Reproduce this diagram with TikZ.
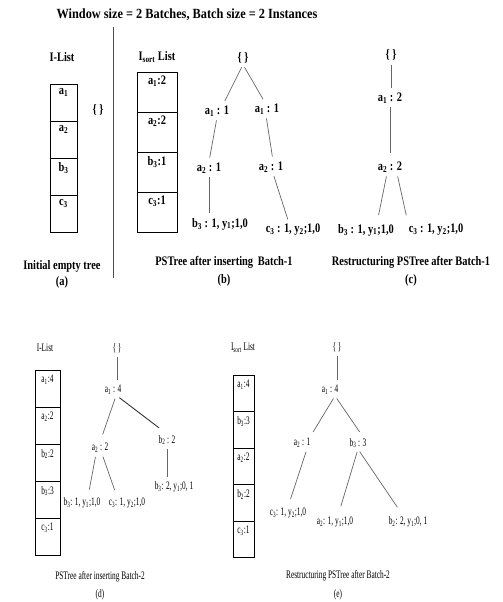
\documentclass[tikz,border=0pt]{standalone}
\usepackage{fontspec}
\setmainfont{Liberation Serif}
\newfontfamily\topfont[FakeStretch=0.8]{Liberation Serif}
\newfontfamily\titlefont[FakeStretch=0.88]{Liberation Serif}
\newfontfamily\botfont[FakeStretch=0.64]{Liberation Serif}
\usetikzlibrary{positioning}

\tikzset{
  toptext/.style={font=\topfont\bfseries\fontsize{13}{15}\selectfont, inner sep=1pt},
  bottext/.style={font=\botfont\fontsize{11.5}{13}\selectfont, inner sep=1pt},
  cell/.style 2 args={draw, line width=0.9pt, minimum width=#1, minimum height=#2, inner sep=0pt},
  edge/.style={draw=black!60, line width=0.7pt, shorten <=3pt, shorten >=4pt}
}

\begin{document}
\begin{tikzpicture}[x=1pt, y=-1pt]
    \useasboundingbox[fill=white] (0,0) rectangle (503,602);

    \node[toptext, font=\titlefont\bfseries\fontsize{14}{16}\selectfont] (title) at (187,15)
    {Window size = 2 Batches, Batch size = 2 Instances};
    \coordinate (divtop) at (113,27);
    \coordinate (divbot) at (113,278);
    \draw[line width=0.8pt, black!70] (divtop) -- (divbot);

    % (a)
    \node[toptext] (a-head) at (62,57) {I-List};
    \foreach \n/\t in
    {1/{a\textsubscript{1}},2/{a\textsubscript{2}},3/{b\textsubscript{3}},4/{c\textsubscript{3}}}
    {\node[cell={27pt}{37pt}, anchor=north] (a-c\n)
    at (63.5,{84+37*(\n-1)}) {};
    \node[toptext, below=3pt of a-c\n.north] {\t};}
    \node[toptext] (a-root) at (98,110) {\{ \}};
    \node[toptext] (a-cap) at (62,266) {Initial empty tree};
    \node[toptext] (a-lbl) at (62,282) {(a)};

    % (b)
    \node[toptext] (b-head) at (157,57) {I\textsubscript{sort} List};
    \foreach \n/\t in
    {1/{a\textsubscript{1}:2},2/{a\textsubscript{2}:2},3/{b\textsubscript{3}:1},4/{c\textsubscript{3}:1}}
    {\node[cell={40pt}{40pt}, anchor=north] (b-c\n)
    at (157,{72+40*(\n-1)}) {};
    \node[toptext, below=3pt of b-c\n.north] {\t};}
    \node[toptext] (b-root) at (243,58) {\{ \}};
    \node[toptext] (b-a1l) at (217,111) {a\textsubscript{1} : 1};
    \node[toptext] (b-a1r) at (267,109) {a\textsubscript{1} : 1};
    \node[toptext] (b-a2l) at (209,168) {a\textsubscript{2} : 1};
    \node[toptext] (b-a2r) at (271,167) {a\textsubscript{2} : 1};
    \node[toptext] (b-lf1) at (220,224) {b\textsubscript{3} : 1, y\textsubscript{1};1,0};
    \node[toptext] (b-lf2) at (293,230) {c\textsubscript{3} : 1, y\textsubscript{2};1,0};
    \draw[edge] (b-root.south) -- ([xshift=6pt]b-a1l.north);
    \draw[edge] (b-root.south) -- ([xshift=-2pt]b-a1r.north);
    \draw[edge] (b-a1l.south) -- (b-a2l.north);
    \draw[edge] ([xshift=-1pt]b-a1r.south) -- ([xshift=2pt]b-a2r.north);
    \draw[edge] (b-a2l.south) -- (b-a2l |- b-lf1.north);
    \draw[edge] ([xshift=2pt]b-a2r.south) -- ([xshift=-4pt]b-lf2.north);
    \node[toptext] (b-cap) at (224,262) {PSTree after inserting\, Batch-1};
    \node[toptext] (b-lbl) at (224,280) {(b)};

    % (c)
    \node[toptext] (c-root) at (391,55) {\{ \}};
    \node[toptext] (c-a1) at (390,98) {a\textsubscript{1} : 2};
    \node[toptext] (c-a2) at (390,167) {a\textsubscript{2} : 2};
    \node[toptext] (c-lf1) at (366,230) {b\textsubscript{3} : 1, y\textsubscript{1};1,0};
    \node[toptext] (c-lf2) at (436,230) {c\textsubscript{3} : 1, y\textsubscript{2};1,0};
    \draw[edge] (c-root.south) -- (c-root |- c-a1.north);
    \draw[edge, shorten >=8pt] (c-a1.south) -- (c-a2.north);
    \draw[edge, shorten >=8pt] ([xshift=-3pt]c-a2.south) -- ([xshift=11pt]c-lf1.north);
    \draw[edge, shorten >=8pt] ([xshift=7pt]c-a2.south) -- ([xshift=-28pt]c-lf2.north);
    \node[toptext] (c-cap) at (411,262) {Restructuring PSTree after Batch-1};
    \node[toptext] (c-lbl) at (411,280) {(c)};

    % (d)
    \node[bottext] (d-head) at (45,348) {I-List};
    \foreach \n/\t in
    {1/{a\textsubscript{1}:4},2/{a\textsubscript{2}:2},3/{b\textsubscript{2}:2},4/{b\textsubscript{3}:3},5/{c\textsubscript{3}:1}}
    {\node[cell={25pt}{37pt}, anchor=north] (d-c\n)
    at (47.5,{370+37*(\n-1)}) {};
    \node[bottext, below=4pt of d-c\n.north] {\t};}
    \node[bottext] (d-root) at (117,348) {\{ \}};
    \node[bottext] (d-a1) at (113,390) {a\textsubscript{1} : 4};
    \node[bottext] (d-a2) at (100,448) {a\textsubscript{2} : 2};
    \node[bottext] (d-b2) at (167,440) {b\textsubscript{2} : 2};
    \node[bottext] (d-lf1) at (82,503) {b\textsubscript{3}: 1, y\textsubscript{1};1,0};
    \node[bottext] (d-lf2) at (127,503) {c\textsubscript{3}: 1, y\textsubscript{2};1,0};
    \node[bottext] (d-lf3) at (174,487) {b\textsubscript{3}: 2, y\textsubscript{1};0, 1};
    \draw[edge] (d-root.south) -- (d-root |- d-a1.north);
    \draw[edge, shorten >=8pt] ([xshift=3pt]d-a1.south) -- (d-a2.north);
    \draw[edge, line width=0.9pt, black!80, shorten >=10pt] ([xshift=4pt]d-a1.south) -- (d-b2.north);
    \draw[edge, shorten >=7pt] ([xshift=-4pt]d-a2.south) -- ([xshift=6pt]d-lf1.north);
    \draw[edge, shorten >=7pt] ([xshift=2pt]d-a2.south) -- ([xshift=-10pt]d-lf2.north);
    \draw[edge] (d-b2.south) -- (d-b2 |- d-lf3.north);
    \node[bottext] (d-cap) at (100,577) {PSTree after inserting Batch-2};
    \node[bottext] (d-lbl) at (100,595) {(d)};

    % (e)
    \node[bottext] (e-head) at (243,348) {I\textsubscript{sort} List};
    \foreach \n/\t in
    {1/{a\textsubscript{1}:4},2/{b\textsubscript{3}:3},3/{a\textsubscript{2}:2},4/{b\textsubscript{2}:2},5/{c\textsubscript{3}:1}}
    {\node[cell={21pt}{36.4pt}, anchor=north] (e-c\n)
    at (243.5,{375+36.4*(\n-1)}) {};
    \node[bottext, below=4pt of e-c\n.north] {\t};}
    \node[bottext] (e-root) at (337,347) {\{ \}};
    \node[bottext] (e-a1) at (330,390) {a\textsubscript{1} : 4};
    \node[bottext] (e-a2) at (302,443) {a\textsubscript{2} : 1};
    \node[bottext] (e-b3) at (358,443) {b\textsubscript{3} : 3};
    \node[bottext] (e-lf1) at (288,513) {c\textsubscript{3}: 1, y\textsubscript{2};1,0};
    \node[bottext] (e-lf2) at (335,522) {a\textsubscript{2}: 1, y\textsubscript{1};1,0};
    \node[bottext] (e-lf3) at (408,522) {b\textsubscript{2}: 2, y\textsubscript{1};0, 1};
    \draw[edge] (e-root.south) -- (e-root |- e-a1.north);
    \draw[edge, shorten >=6pt] ([xshift=5pt]e-a1.south) -- ([xshift=8pt]e-a2.north);
    \draw[edge, shorten >=6pt] ([xshift=5pt]e-a1.south) -- ([xshift=5pt]e-b3.north);
    \draw[edge, shorten >=8pt] ([xshift=5pt]e-a2.south) -- (e-lf1.north);
    \draw[edge, shorten >=10pt] (e-b3.south) -- ([xshift=3pt]e-lf2.north);
    \draw[edge, shorten >=10pt] (e-b3.south) -- ([xshift=-5pt]e-lf3.north);
    \node[bottext] (e-cap) at (338,576) {Restructuring PSTree after Batch-2};
    \node[bottext] (e-lbl) at (338,595) {(e)};
  \end{tikzpicture}
\end{document}
